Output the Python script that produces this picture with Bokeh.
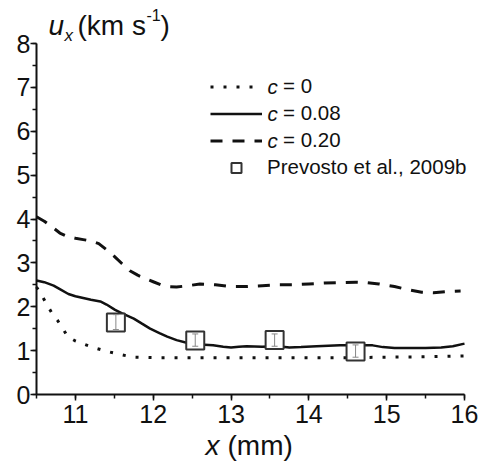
from bokeh.plotting import figure
from bokeh.models import (Range1d, SingleIntervalTicker, Legend, LegendItem, Label,
                          ColumnDataSource, Whisker, TeeHead)
from bokeh.embed import file_html
from bokeh.resources import INLINE

# ---- data ----
x_c0 = [10.5, 10.57, 10.64, 10.7, 10.77, 10.84, 10.9, 11.0, 11.06, 11.23, 11.41, 11.58,
        11.75, 12.0, 12.5, 13.0, 13.5, 14.0, 14.5, 15.0, 15.5, 16.0]
y_c0 = [2.45, 2.25, 2.03, 1.85, 1.69, 1.5, 1.32, 1.22, 1.18, 1.07, 0.98, 0.91,
        0.85, 0.84, 0.84, 0.84, 0.84, 0.84, 0.84, 0.85, 0.86, 0.88]

x_c008 = [10.5, 10.6, 10.72, 10.8, 10.91, 11.0, 11.1, 11.2, 11.32, 11.4, 11.51, 11.6,
          11.75, 11.85, 11.96, 12.08, 12.18, 12.3, 12.43, 12.6, 12.77, 12.9, 13.0,
          13.1, 13.2, 13.4, 13.6, 13.75, 13.9, 14.1, 14.4, 14.6, 14.82, 14.95, 15.1,
          15.3, 15.5, 15.7, 15.85, 16.0]
y_c008 = [2.6, 2.56, 2.48, 2.4, 2.29, 2.24, 2.2, 2.16, 2.12, 2.05, 1.93, 1.85,
          1.73, 1.62, 1.5, 1.4, 1.32, 1.24, 1.18, 1.14, 1.12, 1.09, 1.07,
          1.09, 1.1, 1.09, 1.1, 1.07, 1.08, 1.1, 1.12, 1.12, 1.12, 1.08, 1.06,
          1.06, 1.06, 1.07, 1.1, 1.16]

x_c020 = [10.5, 10.6, 10.7, 10.8, 10.9, 11.0, 11.1, 11.2, 11.3, 11.4, 11.5, 11.6,
          11.7, 11.8, 11.9, 12.0, 12.1, 12.2, 12.3, 12.45, 12.6, 12.8, 13.0, 13.2,
          13.4, 13.6, 13.8, 14.0, 14.2, 14.4, 14.6, 14.75, 14.9, 15.1, 15.3, 15.45,
          15.6, 15.8, 15.95]
y_c020 = [4.05, 3.95, 3.82, 3.68, 3.6, 3.56, 3.53, 3.5, 3.44, 3.3, 3.15, 2.98,
          2.82, 2.72, 2.64, 2.57, 2.5, 2.46, 2.45, 2.48, 2.52, 2.5, 2.46, 2.46,
          2.48, 2.5, 2.5, 2.52, 2.54, 2.55, 2.56, 2.55, 2.52, 2.46, 2.38, 2.33,
          2.32, 2.35, 2.36]

x_prev = [11.52, 12.54, 13.56, 14.6]
y_prev = [1.64, 1.23, 1.24, 0.98]
lo_prev = [1.48, 1.1, 1.1, 0.85]
hi_prev = [1.82, 1.38, 1.38, 1.13]

X_MIN, X_MAX = 10.5, 16
Y_MIN, Y_MAX = 0, 8

FONT = "Liberation Sans"
INK = "#111111"

# ---- layout: frame covers the whole canvas; axes drawn at fixed locations ----
W, H = 481, 468
PX_L, PX_R = 36, 464      # pixel columns of x = X_MIN, X_MAX
PX_T, PX_B = 43, 394      # pixel rows of y = Y_MAX, Y_MIN
sx = (PX_R - PX_L) / (X_MAX - X_MIN)
sy = (PX_B - PX_T) / (Y_MAX - Y_MIN)
x_range = Range1d(X_MIN - PX_L / sx, X_MAX + (W - PX_R) / sx)
y_range = Range1d(Y_MIN - (H - PX_B) / sy, Y_MAX + PX_T / sy)

p = figure(width=W, height=H, output_backend="svg", toolbar_location=None,
           x_range=x_range, y_range=y_range,
           min_border_left=0, min_border_right=0, min_border_top=0, min_border_bottom=0)
p.outline_line_color = None
p.grid.visible = False
p.background_fill_color = "white"
p.border_fill_color = "white"

xa, ya = p.xaxis[0], p.yaxis[0]
xa.fixed_location = Y_MIN
xa.bounds = (X_MIN, X_MAX)
ya.fixed_location = X_MIN
ya.bounds = (Y_MIN, Y_MAX)
for ax in (xa, ya):
    ax.ticker = SingleIntervalTicker(interval=1, num_minor_ticks=2)
    ax.axis_line_width = 2
    ax.axis_line_color = INK
    ax.major_tick_line_color = INK
    ax.minor_tick_line_color = INK
    ax.major_tick_line_width = 1.5
    ax.minor_tick_line_width = 1.5
    ax.major_tick_out = 6
    ax.major_tick_in = 0
    ax.minor_tick_out = 4
    ax.minor_tick_in = 0
    ax.major_label_text_font = FONT
    ax.major_label_text_font_size = "25px"
    ax.major_label_text_color = INK
ya.major_label_standoff = 0
xa.major_label_standoff = 4

r0 = p.line(x_c0, y_c0, line_color=INK, line_width=3, line_dash="3 10")
r1 = p.line(x_c008, y_c008, line_color=INK, line_width=2.5)
r2 = p.line(x_c020, y_c020, line_color=INK, line_width=3, line_dash="12 10")

src = ColumnDataSource(dict(x=x_prev, y=y_prev, lo=lo_prev, hi=hi_prev))
r3 = p.scatter("x", "y", source=src, marker="square", size=18, fill_color="white",
               line_color="#333333", line_width=2)
wh = Whisker(source=src, base="x", lower="lo", upper="hi", line_color="#888888",
             line_width=1, level="overlay",
             upper_head=TeeHead(size=6, line_color="#888888", line_width=1),
             lower_head=TeeHead(size=6, line_color="#888888", line_width=1))
p.add_layout(wh)

def sy_(img_y):
    return H - img_y

LEG_FS = "20.5px"
leg1 = Legend(items=[LegendItem(label="= 0", renderers=[r0]),
                     LegendItem(label="= 0.08", renderers=[r1]),
                     LegendItem(label="= 0.20", renderers=[r2])],
              location=(210, sy_(153.5)), glyph_width=52, glyph_height=27, label_height=27,
              spacing=0, padding=0, margin=0, label_standoff=21,
              border_line_color=None, background_fill_alpha=0,
              label_text_font=FONT, label_text_font_size=LEG_FS, label_text_color=INK)
leg2 = Legend(items=[LegendItem(label="Prevosto et al., 2009b", renderers=[r3])],
              location=(210, sy_(179.5)), glyph_width=52, glyph_height=25, label_height=25,
              spacing=0, padding=0, margin=0, label_standoff=5,
              border_line_color=None, background_fill_alpha=0,
              label_text_font=FONT, label_text_font_size=LEG_FS, label_text_color=INK)
p.add_layout(leg1)
p.add_layout(leg2)

for img_y in (86, 113, 140):
    p.add_layout(Label(x=267, y=sy_(img_y), x_units="screen", y_units="screen", text="c",
                       text_font=FONT, text_font_style="italic", text_font_size=LEG_FS,
                       text_color=INK, text_baseline="middle"))

def lab(x, img_y, t, size, italic=False):
    p.add_layout(Label(x=x, y=sy_(img_y), x_units="screen", y_units="screen", text=t,
                       text_font=FONT, text_font_size=size, text_color=INK,
                       text_font_style="italic" if italic else "normal",
                       text_baseline="alphabetic"))

# y-axis title
lab(48, 25, "u", "28px", True)
lab(64, 35, "x", "17px", True)
lab(77, 25, "(km s", "28px")
lab(146, 14, "-1", "16px")
lab(160, 25, ")", "28px")
# x-axis title
lab(205, 445, "x", "28px", True)
lab(227, 445, "(mm)", "28px")

open("out.html", "w").write(file_html(p, INLINE))
